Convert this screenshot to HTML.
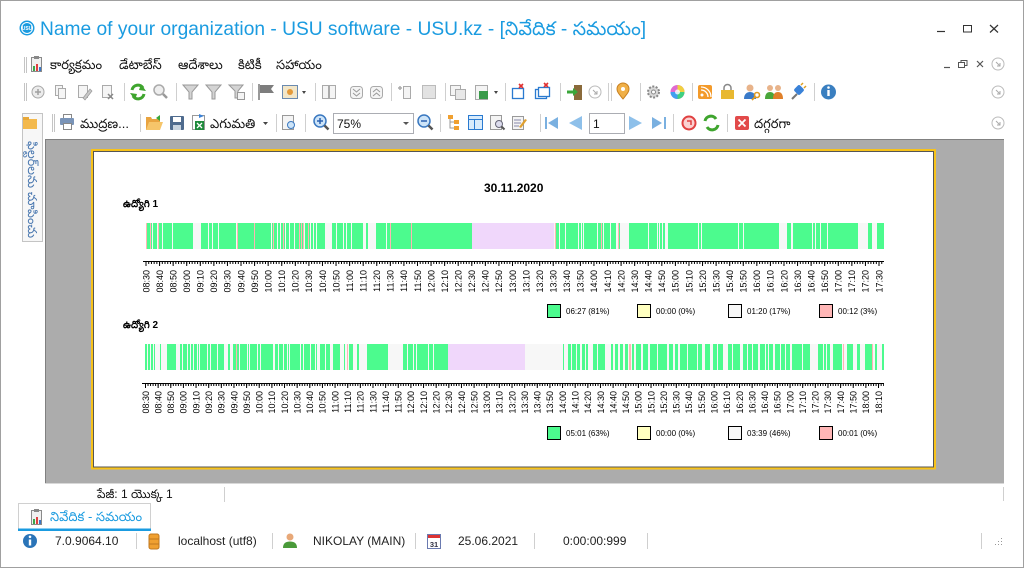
<!DOCTYPE html>
<html><head><meta charset="utf-8">
<style>
html,body{margin:0;padding:0;background:#fff;width:1024px;height:568px;overflow:hidden}
svg{display:block;font-family:"Liberation Sans",Arial,sans-serif}
</style></head><body>
<svg width="1024" height="568" viewBox="0 0 1024 568" xmlns="http://www.w3.org/2000/svg">
<rect x="0.5" y="0.5" width="1023" height="567" fill="#fff" stroke="#a0a0a0"/>

<!-- Title bar -->
<circle cx="27" cy="28" r="7.5" fill="#1a9be0"/>
<circle cx="27" cy="28" r="5.5" fill="none" stroke="#fff" stroke-width="1"/>
<text x="27" y="30" font-size="5" font-weight="bold" fill="#fff" text-anchor="middle">USU</text>
<text x="40" y="35" font-size="19.2" fill="#1a9be0">Name of your organization - USU software - USU.kz - [నివేదిక - సమయం]</text>
<path d="M937 31.5h8" stroke="#333" stroke-width="1.2"/>
<rect x="963.5" y="25.5" width="8" height="6.5" fill="none" stroke="#333"/>
<path d="M990 25l8 7.5M998 25l-8 7.5" stroke="#333" stroke-width="1.2"/>

<!-- Menu bar -->
<path d="M24.5 57v16M26.5 57v16" stroke="#c4c4c4"/>
<rect x="31.5" y="57.5" width="10" height="14" fill="#f0f0f0" stroke="#8a8a8a"/>
<rect x="34" y="56" width="5" height="3" fill="#888"/>
<rect x="33" y="66" width="2" height="5" fill="#3aa64a"/><rect x="36" y="64" width="2" height="7" fill="#e04040"/><rect x="39" y="67" width="2" height="4" fill="#3a78c8"/>
<g font-size="13" fill="#111">
<text x="50" y="69">కార్యక్రమం</text>
<text x="119" y="69">డేటాబేస్</text>
<text x="178" y="69">ఆదేశాలు</text>
<text x="238" y="69">కిటికీ</text>
<text x="276" y="69">సహాయం</text>
</g>
<path d="M944 67.5h6" stroke="#555" stroke-width="1.2"/>
<rect x="958.5" y="62.5" width="6" height="5" fill="none" stroke="#555"/>
<path d="M961 62.5v-2h6v5h-2" fill="none" stroke="#555"/>
<path d="M977 61l6 6M983 61l-6 6" stroke="#555" stroke-width="1.2"/>
<circle cx="998" cy="64" r="6" fill="none" stroke="#bbb"/>
<path d="M996 62l4 4M1000 63v3h-3" stroke="#aaa" fill="none"/>

<!-- Toolbar 1 -->
<path d="M24.5 83v18M26.5 83v18" stroke="#c4c4c4"/>
<g stroke="#cfcfcf">
<path d="M124.5 83v18M176.5 83v18M252.5 83v18M315.5 83v18M391.5 83v18M445.5 83v18M505.5 83v18M560.5 83v18M608.5 83v18M611.5 83v18M640.5 83v18M692.5 83v18M814.5 83v18"/>
</g>
<circle cx="38" cy="92" r="6" fill="#ececec" stroke="#a8a8a8"/>
<path d="M35 92h6M38 89v6" stroke="#a0a0a0" stroke-width="1.5"/>
<rect x="55.5" y="85.5" width="7" height="10" fill="#f5f5f5" stroke="#aaa"/>
<rect x="58.5" y="88.5" width="7" height="10" fill="#f5f5f5" stroke="#aaa"/>
<rect x="78.5" y="85.5" width="9" height="12" fill="#f5f5f5" stroke="#aaa"/>
<path d="M83 98l7-9 2 2-7 9z" fill="#c8c8c8" stroke="#999" stroke-width=".7"/>
<rect x="102.5" y="85.5" width="9" height="12" fill="#f5f5f5" stroke="#aaa"/>
<path d="M108 94l5 5M113 94l-5 5" stroke="#888" stroke-width="1.5"/>
<path d="M132 90a6 6 0 0 1 11-2" stroke="#3fa52e" stroke-width="3" fill="none"/>
<path d="M144 94a6 6 0 0 1-11 2" stroke="#3fa52e" stroke-width="3" fill="none"/>
<polygon points="141,84 146,91 139,90" fill="#3fa52e"/>
<polygon points="135,100 130,93 137,94" fill="#3fa52e"/>
<circle cx="159" cy="90" r="5" fill="#eee" stroke="#aaa" stroke-width="1.5"/>
<path d="M163 94l4 4" stroke="#999" stroke-width="2.5"/>
<path d="M183 85h15l-6 7v7h-3v-7z" fill="#d4d4d4" stroke="#999"/>
<path d="M206 85h15l-6 7v7h-3v-7z" fill="#d4d4d4" stroke="#999"/>
<path d="M229 85h14l-5 6v7h-3v-7z" fill="#d4d4d4" stroke="#999"/>
<rect x="237.5" y="92.5" width="7" height="7" fill="#f4f4f4" stroke="#999"/>
<path d="M259 84v16" stroke="#777" stroke-width="1.5"/>
<path d="M260 85h14l-3 4 3 4h-14z" fill="#7d7d7d"/>
<rect x="282.5" y="85.5" width="15" height="13" fill="#f2e6c8" stroke="#6a8ab0"/>
<circle cx="290" cy="92" r="3" fill="#e49a3a"/>
<polygon points="302,91 306,91 304,94" fill="#444"/>
<rect x="322.5" y="85.5" width="6" height="13" fill="#f4f4f4" stroke="#aaa"/>
<rect x="329.5" y="85.5" width="6" height="13" fill="#f4f4f4" stroke="#aaa"/>
<rect x="350.5" y="86.5" width="12" height="12" rx="3" fill="#f4f4f4" stroke="#aaa"/>
<path d="M353 89l3.5 3 3.5-3M353 93l3.5 3 3.5-3" stroke="#999" fill="none"/>
<rect x="370.5" y="86.5" width="12" height="12" rx="3" fill="#f4f4f4" stroke="#aaa"/>
<path d="M373 92l3.5-3 3.5 3M373 96l3.5-3 3.5 3" stroke="#999" fill="none"/>
<path d="M398 88h4M400 86v4" stroke="#aaa" stroke-width="1.5"/>
<rect x="403.5" y="86.5" width="7" height="12" fill="#f4f4f4" stroke="#aaa"/>
<rect x="422.5" y="85.5" width="13" height="13" fill="#e2e2e2" stroke="#bbb"/>
<rect x="450.5" y="85.5" width="10" height="10" fill="#f4f4f4" stroke="#aaa"/>
<rect x="455.5" y="89.5" width="10" height="10" fill="#e8e8e8" stroke="#aaa"/>
<rect x="475.5" y="85.5" width="12" height="14" fill="#f4f4f4" stroke="#aaa"/>
<rect x="479" y="91" width="9" height="8" fill="#3a9a4a"/>
<polygon points="494,91 498,91 496,94" fill="#444"/>
<rect x="512.5" y="88.5" width="11" height="10" fill="#fff" stroke="#2a7ad0" stroke-width="1.3"/>
<path d="M519 84l4 4M523 84l-4 4" stroke="#e03030" stroke-width="1.6"/>
<rect x="535.5" y="89.5" width="11" height="9" fill="#fff" stroke="#2a7ad0" stroke-width="1.3"/>
<rect x="538.5" y="87.5" width="11" height="9" fill="#fff" stroke="#2a7ad0" stroke-width="1.3"/>
<path d="M544 83l4 4M548 83l-4 4" stroke="#e03030" stroke-width="1.6"/>
<rect x="574" y="85" width="8" height="15" fill="#8a6a3a"/>
<path d="M567 92h7" stroke="#3aa63a" stroke-width="3"/>
<polygon points="573,88 578,92 573,96" fill="#3aa63a"/>
<circle cx="595" cy="92" r="6" fill="none" stroke="#bbb"/>
<path d="M593 90l4 4M597 91v3h-3" stroke="#aaa" fill="none"/>
<path d="M623 99c-4-5-6-7-6-10a6 6 0 0 1 12 0c0 3-2 5-6 10z" fill="#f0b048" stroke="#c88020"/>
<circle cx="623" cy="89" r="2" fill="#fff"/>
<circle cx="653.5" cy="92" r="5.5" fill="#d8d8d8" stroke="#888" stroke-width="2" stroke-dasharray="2 1.5"/>
<circle cx="653.5" cy="92" r="2" fill="#fff" stroke="#888"/>
<circle cx="677.5" cy="92" r="7" fill="#e06ad0"/>
<path d="M677.5 92L677.5 85A7 7 0 0 1 684.5 92z" fill="#f0d040"/>
<path d="M677.5 92L684.5 92A7 7 0 0 1 677.5 99z" fill="#40d080"/>
<path d="M677.5 92L677.5 99A7 7 0 0 1 670.5 92z" fill="#40a0f0"/>
<circle cx="677.5" cy="92" r="2.5" fill="#fff" opacity=".8"/>
<rect x="698" y="85" width="14" height="14" rx="2" fill="#f39a2a"/>
<circle cx="702" cy="95" r="1.5" fill="#fff"/>
<path d="M701 90a7 7 0 0 1 7 7M701 87a10 10 0 0 1 10 10" stroke="#fff" stroke-width="1.3" fill="none"/>
<path d="M724 90v-2a3.5 3.5 0 0 1 7 0v2" stroke="#888" stroke-width="1.5" fill="none"/>
<rect x="721" y="90" width="13" height="9" fill="#e8b830"/>
<circle cx="750" cy="88" r="3.5" fill="#e8b38a"/>
<path d="M744 99c0-5 3-7 6-7s6 2 6 7z" fill="#3a7ac8"/>
<circle cx="757" cy="95" r="2.5" fill="none" stroke="#e09a20" stroke-width="1.6"/>
<path d="M755 97l-3 3" stroke="#e09a20" stroke-width="1.6"/>
<circle cx="770" cy="88" r="3" fill="#e8b38a"/><circle cx="778" cy="88" r="3" fill="#e8b38a"/>
<path d="M765 99c0-5 2-7 5-7s5 2 5 7z" fill="#4aa63a"/><path d="M773 99c0-5 2-7 5-7s5 2 5 7z" fill="#e0802a"/>
<path d="M792 99l5-5" stroke="#777" stroke-width="2"/>
<rect x="795" y="86" width="8" height="8" rx="2" fill="#3a82d8" transform="rotate(45 799 90)"/>
<path d="M801 85l2-2M804 88l2-2" stroke="#e0a020" stroke-width="1.5"/>
<circle cx="828.5" cy="92" r="7.5" fill="#3a7fc0"/>
<rect x="827.3" y="90" width="2.4" height="6" fill="#fff"/><circle cx="828.5" cy="87.5" r="1.3" fill="#fff"/>
<circle cx="998" cy="92" r="6" fill="none" stroke="#bbb"/>
<path d="M996 90l4 4M1000 91v3h-3" stroke="#aaa" fill="none"/>

<!-- Left panel -->
<rect x="22.5" y="113.5" width="20" height="128" fill="#f7f7f7" stroke="#c4c4c4"/>
<rect x="23" y="119" width="14" height="10" fill="#f3b94d"/>
<rect x="23" y="117" width="6" height="3" fill="#e8a838"/>
<text transform="matrix(0,1,-1,0,28,141)" font-size="12.5" fill="#4a78b0">ఫిల్టర్‌లను చూపించు</text>

<!-- Toolbar 2 -->
<path d="M52.5 114v18M54.5 114v18" stroke="#c4c4c4"/>
<g stroke="#cfcfcf"><path d="M140.5 114v18M276.5 114v18M305.5 114v18M440.5 114v18M540.5 114v18M673.5 114v18M727.5 114v18"/></g>
<rect x="63.5" y="114.5" width="8" height="4" fill="#fff" stroke="#888"/>
<rect x="60" y="118" width="14" height="7" rx="1" fill="#7a94b8"/>
<rect x="63.5" y="123.5" width="8" height="6" fill="#fff" stroke="#888"/>
<g font-size="13" fill="#111">
<text x="80" y="128">ముద్రణ...</text>
<text x="210" y="128">ఎగుమతి</text>
<text x="754" y="128">దగ్గరగా</text>
</g>
<path d="M146 117h5l1 2h8v11h-14z" fill="#e9a440"/>
<path d="M146 130l3-8h14l-3 8z" fill="#f6c56a"/>
<path d="M156 118l4-3v6z" fill="#3aa63a"/>
<rect x="170" y="116" width="14" height="14" rx="1" fill="#4f6b8e"/>
<rect x="173" y="117" width="8" height="5" fill="#fff"/>
<rect x="173" y="125" width="8" height="5" fill="#c8d4e0"/>
<rect x="192.5" y="115.5" width="12" height="14" fill="#fff" stroke="#999"/>
<rect x="195" y="121" width="9" height="9" fill="#1f8a3c"/>
<path d="M197 123l5 5M202 123l-5 5" stroke="#fff" stroke-width="1.3"/>
<path d="M199 114l5 2-5 2" fill="#3a82d8"/>
<polygon points="263,122 268,122 265.5,125" fill="#444"/>
<rect x="282.5" y="115.5" width="11" height="14" fill="#f4f4f4" stroke="#999"/>
<circle cx="291" cy="125" r="3.5" fill="#cde4f8" stroke="#3a78c0"/>
<circle cx="320" cy="121" r="6" fill="#cde4f8" stroke="#3a78c0" stroke-width="1.5"/>
<path d="M317 121h6M320 118v6" stroke="#2a60b0" stroke-width="1.5"/>
<path d="M324.5 125.5l4 4" stroke="#555" stroke-width="2.5"/>
<rect x="333.5" y="113.5" width="80" height="20" fill="#fff" stroke="#abadb3"/>
<text x="337" y="128" font-size="12" fill="#111">75%</text>
<polygon points="403,122 409,122 406,125" fill="#555"/>
<circle cx="424" cy="121" r="6" fill="#cde4f8" stroke="#3a78c0" stroke-width="1.5"/>
<path d="M421 121h6" stroke="#2a60b0" stroke-width="1.5"/>
<path d="M428.5 125.5l4 4" stroke="#555" stroke-width="2.5"/>
<rect x="448" y="115" width="5" height="4" fill="#f0a030"/><rect x="454" y="120" width="5" height="4" fill="#f0a030"/><rect x="454" y="126" width="5" height="4" fill="#f0a030"/>
<path d="M450 119v9h4M450 122h4" stroke="#999" fill="none"/>
<rect x="468.5" y="115.5" width="14" height="14" fill="#d8ebfb" stroke="#2a7ad0"/>
<path d="M468.5 119.5h14M474.5 119.5v10" stroke="#2a7ad0"/>
<rect x="490.5" y="115.5" width="11" height="14" fill="#f4f4f4" stroke="#999"/>
<circle cx="499" cy="124" r="3.5" fill="#dde" stroke="#667"/>
<path d="M501.5 126.5l3 3" stroke="#555" stroke-width="2"/>
<rect x="512.5" y="116.5" width="11" height="13" fill="#f4f4f4" stroke="#999"/>
<path d="M514 120h7M514 123h7M514 126h5" stroke="#88a"/>
<path d="M519 127l6-8 2 1-6 8z" fill="#e0a030"/>
<rect x="545" y="117" width="2" height="12" fill="#7ab0e0"/>
<polygon points="558,117 548,123 558,129" fill="#7ab0e0"/>
<polygon points="582,116 569,123 582,130" fill="#8ec0ea"/>
<rect x="589.5" y="113.5" width="35" height="20" fill="#fff" stroke="#abadb3"/>
<text x="593" y="128" font-size="12" fill="#111">1</text>
<polygon points="629,116 642,123 629,130" fill="#8ec0ea"/>
<polygon points="652,117 662,123 652,129" fill="#7ab0e0"/>
<rect x="664" y="117" width="2" height="12" fill="#7ab0e0"/>
<circle cx="689" cy="123" r="6.5" fill="#fbd0d0" stroke="#e04040" stroke-width="2"/>
<path d="M687 121h4v4" stroke="#e04040" stroke-width="1.5" fill="none"/>
<path d="M705 121a6 6 0 0 1 11-2" stroke="#3fa52e" stroke-width="3" fill="none"/>
<path d="M718 125a6 6 0 0 1-11 2" stroke="#3fa52e" stroke-width="3" fill="none"/>
<rect x="735" y="116" width="14" height="14" rx="2" fill="#e24a4a"/>
<path d="M738.5 119.5l7 7M745.5 119.5l-7 7" stroke="#fff" stroke-width="1.8"/>
<circle cx="998" cy="123" r="6" fill="none" stroke="#bbb"/>
<path d="M996 121l4 4M1000 122v3h-3" stroke="#aaa" fill="none"/>

<!-- Preview gray area -->
<rect x="45" y="139" width="959" height="344" fill="#acacac"/>
<path d="M45 139.5h959M45.5 139v344" stroke="#808080"/>
<path d="M45 483.5h959" stroke="#d8d8d8"/>

<!-- Page -->
<rect x="92" y="150" width="843" height="318.5" fill="#fff" stroke="#f7c21a" stroke-width="2"/>
<rect x="93.5" y="151.5" width="840" height="315.5" fill="none" stroke="#555"/>

<text x="484" y="192" font-size="12" font-weight="bold" fill="#000">30.11.2020</text>
<text x="123" y="207" font-size="10" font-weight="bold" fill="#000">ఉద్యోగి 1</text>
<text x="123" y="328" font-size="10" font-weight="bold" fill="#000">ఉద్యోగి 2</text>

<!-- Chart 1 bar -->
<rect x="146" y="223" width="738" height="26" fill="#f7f7f7"/>
<g fill="#4cfb8e">
<rect x="146" y="223" width="47" height="26"/>
<rect x="201" y="223" width="124" height="26"/>
<rect x="332" y="223" width="31" height="26"/>
<rect x="366" y="223" width="2" height="26"/>
<rect x="376" y="223" width="96" height="26"/>
<rect x="556" y="223" width="64" height="26"/>
<rect x="629" y="223" width="36" height="26"/>
<rect x="668" y="223" width="70" height="26"/>
<rect x="739" y="223" width="40" height="26"/>
<rect x="787" y="223" width="4" height="26"/>
<rect x="793" y="223" width="65" height="26"/>
<rect x="868" y="223" width="4" height="26"/>
<rect x="877" y="223" width="7" height="26"/>
</g>
<rect x="472" y="223" width="82" height="26" fill="#f0d7fb"/>
<g fill="#f7f7f7">
<rect x="152" y="223" width="1" height="26"/><rect x="157" y="223" width="1" height="26"/><rect x="162" y="223" width="1" height="26"/><rect x="172" y="223" width="1" height="26"/>
<rect x="208" y="223" width="1" height="26"/><rect x="212" y="223" width="1" height="26"/><rect x="218" y="223" width="1" height="26"/><rect x="236" y="223" width="1" height="26"/>
<rect x="271" y="223" width="1" height="26"/><rect x="277" y="223" width="1" height="26"/><rect x="280" y="223" width="1" height="26"/><rect x="285" y="223" width="1" height="26"/>
<rect x="289" y="223" width="1" height="26"/><rect x="294" y="223" width="1" height="26"/><rect x="304" y="223" width="1" height="26"/><rect x="310" y="223" width="1" height="26"/>
<rect x="313" y="223" width="1" height="26"/><rect x="316" y="223" width="1" height="26"/>
<rect x="336" y="223" width="1" height="26"/><rect x="343" y="223" width="1" height="26"/><rect x="346" y="223" width="1" height="26"/><rect x="351" y="223" width="1" height="26"/>
<rect x="386" y="223" width="1" height="26"/>
<rect x="559" y="223" width="1" height="26"/><rect x="565" y="223" width="1" height="26"/><rect x="578" y="223" width="1" height="26"/><rect x="581" y="223" width="1" height="26"/>
<rect x="583" y="223" width="1" height="26"/><rect x="597" y="223" width="1" height="26"/><rect x="603" y="223" width="1" height="26"/><rect x="610" y="223" width="1" height="26"/>
<rect x="616" y="223" width="2" height="26"/>
<rect x="648" y="223" width="1" height="26"/><rect x="657" y="223" width="1" height="26"/><rect x="659" y="223" width="1" height="26"/><rect x="662" y="223" width="1" height="26"/>
<rect x="698" y="223" width="1" height="26"/><rect x="701" y="223" width="1" height="26"/><rect x="743" y="223" width="1" height="26"/>
<rect x="812" y="223" width="1" height="26"/><rect x="815" y="223" width="1" height="26"/><rect x="820" y="223" width="1" height="26"/><rect x="827" y="223" width="1" height="26"/>
</g>
<g fill="#ffb3b3">
<rect x="146" y="223" width="1" height="26"/><rect x="150" y="223" width="1" height="26"/><rect x="158" y="223" width="1" height="26"/>
<rect x="237" y="223" width="1" height="26"/><rect x="254" y="223" width="1" height="26"/><rect x="273" y="223" width="1" height="26"/><rect x="283" y="223" width="1" height="26"/>
<rect x="299" y="223" width="1" height="26"/><rect x="301" y="223" width="1" height="26"/><rect x="303" y="223" width="1" height="26"/><rect x="308" y="223" width="1" height="26"/>
<rect x="390" y="223" width="1" height="26"/><rect x="411" y="223" width="1" height="26"/>
<rect x="555" y="223" width="1" height="26"/><rect x="601" y="223" width="1" height="26"/><rect x="618" y="223" width="1" height="26"/>
</g>

<!-- Chart 1 axis -->
<path d="M143 261.5H884" stroke="#000"/>
<path d="M145.5 263H884" stroke="#000" stroke-width="2" stroke-dasharray="1 1.715"/>
<path d="M145.5 264H884" stroke="#000" stroke-width="4" stroke-dasharray="1 12.574"/>
<g font-size="9" fill="#000" text-anchor="end">
<text transform="matrix(0,-1,1,0,149.3,270)">08:30</text>
<text transform="matrix(0,-1,1,0,162.9,270)">08:40</text>
<text transform="matrix(0,-1,1,0,176.4,270)">08:50</text>
<text transform="matrix(0,-1,1,0,190.0,270)">09:00</text>
<text transform="matrix(0,-1,1,0,203.6,270)">09:10</text>
<text transform="matrix(0,-1,1,0,217.2,270)">09:20</text>
<text transform="matrix(0,-1,1,0,230.7,270)">09:30</text>
<text transform="matrix(0,-1,1,0,244.3,270)">09:40</text>
<text transform="matrix(0,-1,1,0,257.9,270)">09:50</text>
<text transform="matrix(0,-1,1,0,271.5,270)">10:00</text>
<text transform="matrix(0,-1,1,0,285.0,270)">10:10</text>
<text transform="matrix(0,-1,1,0,298.6,270)">10:20</text>
<text transform="matrix(0,-1,1,0,312.2,270)">10:30</text>
<text transform="matrix(0,-1,1,0,325.8,270)">10:40</text>
<text transform="matrix(0,-1,1,0,339.3,270)">10:50</text>
<text transform="matrix(0,-1,1,0,352.9,270)">11:00</text>
<text transform="matrix(0,-1,1,0,366.5,270)">11:10</text>
<text transform="matrix(0,-1,1,0,380.1,270)">11:20</text>
<text transform="matrix(0,-1,1,0,393.6,270)">11:30</text>
<text transform="matrix(0,-1,1,0,407.2,270)">11:40</text>
<text transform="matrix(0,-1,1,0,420.8,270)">11:50</text>
<text transform="matrix(0,-1,1,0,434.4,270)">12:00</text>
<text transform="matrix(0,-1,1,0,447.9,270)">12:10</text>
<text transform="matrix(0,-1,1,0,461.5,270)">12:20</text>
<text transform="matrix(0,-1,1,0,475.1,270)">12:30</text>
<text transform="matrix(0,-1,1,0,488.7,270)">12:40</text>
<text transform="matrix(0,-1,1,0,502.2,270)">12:50</text>
<text transform="matrix(0,-1,1,0,515.8,270)">13:00</text>
<text transform="matrix(0,-1,1,0,529.4,270)">13:10</text>
<text transform="matrix(0,-1,1,0,542.9,270)">13:20</text>
<text transform="matrix(0,-1,1,0,556.5,270)">13:30</text>
<text transform="matrix(0,-1,1,0,570.1,270)">13:40</text>
<text transform="matrix(0,-1,1,0,583.7,270)">13:50</text>
<text transform="matrix(0,-1,1,0,597.2,270)">14:00</text>
<text transform="matrix(0,-1,1,0,610.8,270)">14:10</text>
<text transform="matrix(0,-1,1,0,624.4,270)">14:20</text>
<text transform="matrix(0,-1,1,0,638.0,270)">14:30</text>
<text transform="matrix(0,-1,1,0,651.5,270)">14:40</text>
<text transform="matrix(0,-1,1,0,665.1,270)">14:50</text>
<text transform="matrix(0,-1,1,0,678.7,270)">15:00</text>
<text transform="matrix(0,-1,1,0,692.3,270)">15:10</text>
<text transform="matrix(0,-1,1,0,705.8,270)">15:20</text>
<text transform="matrix(0,-1,1,0,719.4,270)">15:30</text>
<text transform="matrix(0,-1,1,0,733.0,270)">15:40</text>
<text transform="matrix(0,-1,1,0,746.6,270)">15:50</text>
<text transform="matrix(0,-1,1,0,760.1,270)">16:00</text>
<text transform="matrix(0,-1,1,0,773.7,270)">16:10</text>
<text transform="matrix(0,-1,1,0,787.3,270)">16:20</text>
<text transform="matrix(0,-1,1,0,800.9,270)">16:30</text>
<text transform="matrix(0,-1,1,0,814.4,270)">16:40</text>
<text transform="matrix(0,-1,1,0,828.0,270)">16:50</text>
<text transform="matrix(0,-1,1,0,841.6,270)">17:00</text>
<text transform="matrix(0,-1,1,0,855.1,270)">17:10</text>
<text transform="matrix(0,-1,1,0,868.7,270)">17:20</text>
<text transform="matrix(0,-1,1,0,882.3,270)">17:30</text>
</g>

<!-- Legend 1 -->
<g stroke="#000">
<rect x="547.5" y="304.5" width="13" height="13" fill="#4cfb8e"/>
<rect x="637.5" y="304.5" width="13" height="13" fill="#ffffc0"/>
<rect x="728.5" y="304.5" width="13" height="13" fill="#f7f7f7"/>
<rect x="819.5" y="304.5" width="13" height="13" fill="#ffb6b6"/>
</g>
<g font-size="8" fill="#000">
<text x="566" y="314">06:27 (81%)</text>
<text x="656" y="314">00:00 (0%)</text>
<text x="747" y="314">01:20 (17%)</text>
<text x="838" y="314">00:12 (3%)</text>
</g>

<!-- Chart 2 bar -->
<rect x="145" y="344" width="739" height="26" fill="#f7f7f7"/>
<g fill="#4cfb8e">
<rect x="145" y="344" width="2" height="26"/><rect x="148" y="344" width="2" height="26"/><rect x="151" y="344" width="2" height="26"/><rect x="154" y="344" width="1" height="26"/>
<rect x="160" y="344" width="1" height="26"/><rect x="167" y="344" width="9" height="26"/><rect x="180" y="344" width="44" height="26"/>
<rect x="228" y="344" width="2" height="26"/><rect x="233" y="344" width="40" height="26"/><rect x="275" y="344" width="42" height="26"/>
<rect x="320" y="344" width="10" height="26"/><rect x="333" y="344" width="7" height="26"/><rect x="344" y="344" width="1" height="26"/>
<rect x="349" y="344" width="4" height="26"/><rect x="357" y="344" width="2" height="26"/><rect x="367" y="344" width="22" height="26"/>
<rect x="403" y="344" width="45" height="26"/>
<rect x="563" y="344" width="1" height="26"/><rect x="568" y="344" width="12" height="26"/><rect x="582" y="344" width="6" height="26"/>
<rect x="593" y="344" width="4" height="26"/><rect x="598" y="344" width="7" height="26"/><rect x="611" y="344" width="2" height="26"/>
<rect x="615" y="344" width="3" height="26"/><rect x="620" y="344" width="3" height="26"/><rect x="625" y="344" width="3" height="26"/>
<rect x="632" y="344" width="2" height="26"/><rect x="636" y="344" width="5" height="26"/><rect x="643" y="344" width="5" height="26"/>
<rect x="650" y="344" width="7" height="26"/><rect x="658" y="344" width="9" height="26"/><rect x="669" y="344" width="4" height="26"/>
<rect x="675" y="344" width="3" height="26"/><rect x="680" y="344" width="7" height="26"/><rect x="688" y="344" width="9" height="26"/>
<rect x="698" y="344" width="4" height="26"/><rect x="705" y="344" width="5" height="26"/><rect x="713" y="344" width="10" height="26"/>
<rect x="728" y="344" width="12" height="26"/><rect x="743" y="344" width="4" height="26"/><rect x="748" y="344" width="10" height="26"/>
<rect x="760" y="344" width="13" height="26"/><rect x="775" y="344" width="15" height="26"/><rect x="792" y="344" width="10" height="26"/>
<rect x="803" y="344" width="7" height="26"/><rect x="818" y="344" width="12" height="26"/><rect x="833" y="344" width="9" height="26"/>
<rect x="847" y="344" width="6" height="26"/><rect x="857" y="344" width="3" height="26"/><rect x="865" y="344" width="7" height="26"/>
<rect x="875" y="344" width="2" height="26"/><rect x="882" y="344" width="2" height="26"/>
</g>
<rect x="448" y="344" width="77" height="26" fill="#f0d7fb"/>
<g fill="#f7f7f7">
<rect x="182" y="344" width="1" height="26"/><rect x="187" y="344" width="1" height="26"/><rect x="190" y="344" width="1" height="26"/><rect x="193" y="344" width="1" height="26"/>
<rect x="197" y="344" width="1" height="26"/><rect x="199" y="344" width="1" height="26"/><rect x="207" y="344" width="1" height="26"/><rect x="210" y="344" width="1" height="26"/>
<rect x="217" y="344" width="1" height="26"/><rect x="239" y="344" width="1" height="26"/><rect x="247" y="344" width="1" height="26"/><rect x="249" y="344" width="1" height="26"/>
<rect x="257" y="344" width="1" height="26"/><rect x="260" y="344" width="1" height="26"/><rect x="278" y="344" width="1" height="26"/><rect x="283" y="344" width="1" height="26"/>
<rect x="287" y="344" width="1" height="26"/><rect x="289" y="344" width="1" height="26"/><rect x="300" y="344" width="1" height="26"/><rect x="303" y="344" width="1" height="26"/>
<rect x="310" y="344" width="1" height="26"/><rect x="315" y="344" width="1" height="26"/><rect x="325" y="344" width="1" height="26"/><rect x="388" y="344" width="1" height="26"/>
<rect x="407" y="344" width="1" height="26"/><rect x="413" y="344" width="1" height="26"/><rect x="416" y="344" width="1" height="26"/><rect x="428" y="344" width="1" height="26"/>
<rect x="433" y="344" width="1" height="26"/><rect x="571" y="344" width="1" height="26"/><rect x="576" y="344" width="1" height="26"/><rect x="585" y="344" width="1" height="26"/>
<rect x="717" y="344" width="1" height="26"/><rect x="732" y="344" width="1" height="26"/><rect x="752" y="344" width="1" height="26"/><rect x="765" y="344" width="1" height="26"/>
<rect x="768" y="344" width="1" height="26"/><rect x="780" y="344" width="1" height="26"/><rect x="785" y="344" width="1" height="26"/><rect x="823" y="344" width="1" height="26"/>
<rect x="826" y="344" width="1" height="26"/>
</g>
<g fill="#ffb3b3">
<rect x="236" y="344" width="1" height="26"/><rect x="347" y="344" width="1" height="26"/><rect x="629" y="344" width="2" height="26"/>
<rect x="843" y="344" width="1" height="26"/><rect x="872" y="344" width="1" height="26"/>
</g>

<!-- Chart 2 axis -->
<path d="M142 383.5H884" stroke="#000"/>
<path d="M145 385H884" stroke="#000" stroke-width="2" stroke-dasharray="1 1.528"/>
<path d="M145 386H884" stroke="#000" stroke-width="4" stroke-dasharray="1 11.638"/>
<g font-size="9" fill="#000" text-anchor="end">
<text transform="matrix(0,-1,1,0,148.8,391)">08:30</text>
<text transform="matrix(0,-1,1,0,161.4,391)">08:40</text>
<text transform="matrix(0,-1,1,0,174.1,391)">08:50</text>
<text transform="matrix(0,-1,1,0,186.7,391)">09:00</text>
<text transform="matrix(0,-1,1,0,199.4,391)">09:10</text>
<text transform="matrix(0,-1,1,0,212.0,391)">09:20</text>
<text transform="matrix(0,-1,1,0,224.6,391)">09:30</text>
<text transform="matrix(0,-1,1,0,237.3,391)">09:40</text>
<text transform="matrix(0,-1,1,0,249.9,391)">09:50</text>
<text transform="matrix(0,-1,1,0,262.5,391)">10:00</text>
<text transform="matrix(0,-1,1,0,275.2,391)">10:10</text>
<text transform="matrix(0,-1,1,0,287.8,391)">10:20</text>
<text transform="matrix(0,-1,1,0,300.5,391)">10:30</text>
<text transform="matrix(0,-1,1,0,313.1,391)">10:40</text>
<text transform="matrix(0,-1,1,0,325.7,391)">10:50</text>
<text transform="matrix(0,-1,1,0,338.4,391)">11:00</text>
<text transform="matrix(0,-1,1,0,351.0,391)">11:10</text>
<text transform="matrix(0,-1,1,0,363.6,391)">11:20</text>
<text transform="matrix(0,-1,1,0,376.3,391)">11:30</text>
<text transform="matrix(0,-1,1,0,388.9,391)">11:40</text>
<text transform="matrix(0,-1,1,0,401.6,391)">11:50</text>
<text transform="matrix(0,-1,1,0,414.2,391)">12:00</text>
<text transform="matrix(0,-1,1,0,426.8,391)">12:10</text>
<text transform="matrix(0,-1,1,0,439.5,391)">12:20</text>
<text transform="matrix(0,-1,1,0,452.1,391)">12:30</text>
<text transform="matrix(0,-1,1,0,464.8,391)">12:40</text>
<text transform="matrix(0,-1,1,0,477.4,391)">12:50</text>
<text transform="matrix(0,-1,1,0,490.0,391)">13:00</text>
<text transform="matrix(0,-1,1,0,502.7,391)">13:10</text>
<text transform="matrix(0,-1,1,0,515.3,391)">13:20</text>
<text transform="matrix(0,-1,1,0,527.9,391)">13:30</text>
<text transform="matrix(0,-1,1,0,540.6,391)">13:40</text>
<text transform="matrix(0,-1,1,0,553.2,391)">13:50</text>
<text transform="matrix(0,-1,1,0,565.9,391)">14:00</text>
<text transform="matrix(0,-1,1,0,578.5,391)">14:10</text>
<text transform="matrix(0,-1,1,0,591.1,391)">14:20</text>
<text transform="matrix(0,-1,1,0,603.8,391)">14:30</text>
<text transform="matrix(0,-1,1,0,616.4,391)">14:40</text>
<text transform="matrix(0,-1,1,0,629.0,391)">14:50</text>
<text transform="matrix(0,-1,1,0,641.7,391)">15:00</text>
<text transform="matrix(0,-1,1,0,654.3,391)">15:10</text>
<text transform="matrix(0,-1,1,0,667.0,391)">15:20</text>
<text transform="matrix(0,-1,1,0,679.6,391)">15:30</text>
<text transform="matrix(0,-1,1,0,692.2,391)">15:40</text>
<text transform="matrix(0,-1,1,0,704.9,391)">15:50</text>
<text transform="matrix(0,-1,1,0,717.5,391)">16:00</text>
<text transform="matrix(0,-1,1,0,730.1,391)">16:10</text>
<text transform="matrix(0,-1,1,0,742.8,391)">16:20</text>
<text transform="matrix(0,-1,1,0,755.4,391)">16:30</text>
<text transform="matrix(0,-1,1,0,768.1,391)">16:40</text>
<text transform="matrix(0,-1,1,0,780.7,391)">16:50</text>
<text transform="matrix(0,-1,1,0,793.3,391)">17:00</text>
<text transform="matrix(0,-1,1,0,806.0,391)">17:10</text>
<text transform="matrix(0,-1,1,0,818.6,391)">17:20</text>
<text transform="matrix(0,-1,1,0,831.2,391)">17:30</text>
<text transform="matrix(0,-1,1,0,843.9,391)">17:40</text>
<text transform="matrix(0,-1,1,0,856.5,391)">17:50</text>
<text transform="matrix(0,-1,1,0,869.2,391)">18:00</text>
<text transform="matrix(0,-1,1,0,881.8,391)">18:10</text>
</g>

<!-- Legend 2 -->
<g stroke="#000">
<rect x="547.5" y="426.5" width="13" height="13" fill="#4cfb8e"/>
<rect x="637.5" y="426.5" width="13" height="13" fill="#ffffc0"/>
<rect x="728.5" y="426.5" width="13" height="13" fill="#f7f7f7"/>
<rect x="819.5" y="426.5" width="13" height="13" fill="#ffb6b6"/>
</g>
<g font-size="8" fill="#000">
<text x="566" y="436">05:01 (63%)</text>
<text x="656" y="436">00:00 (0%)</text>
<text x="747" y="436">03:39 (46%)</text>
<text x="838" y="436">00:01 (0%)</text>
</g>

<!-- Page status row -->
<text x="97" y="498" font-size="12" fill="#111">పేజీ: 1 యొక్క 1</text>
<path d="M224.5 487v15M1003.5 487v14" stroke="#cfcfcf"/>

<!-- Tab -->
<path d="M18.5 531V503.5H150.5V531" fill="none" stroke="#d0d0d0"/>
<rect x="18" y="528.5" width="133" height="2.5" fill="#1a9be0"/>
<rect x="31.5" y="510.5" width="10" height="14" fill="#f0f0f0" stroke="#8a8a8a"/>
<rect x="34" y="509" width="5" height="3" fill="#888"/>
<rect x="33" y="519" width="2" height="5" fill="#3aa64a"/><rect x="36" y="517" width="2" height="7" fill="#e04040"/><rect x="39" y="520" width="2" height="4" fill="#3a78c8"/>
<text x="50" y="521" font-size="13" fill="#1a9be0">నివేదిక - సమయం</text>

<!-- Status bar -->
<circle cx="30" cy="541" r="7" fill="#2a74b8"/>
<rect x="28.8" y="539.5" width="2.4" height="6" fill="#fff"/><circle cx="30" cy="536.8" r="1.3" fill="#fff"/>
<g font-size="12" fill="#222">
<text x="55" y="545">7.0.9064.10</text>
<text x="178" y="545">localhost (utf8)</text>
<text x="313" y="545">NIKOLAY (MAIN)</text>
<text x="458" y="545">25.06.2021</text>
<text x="563" y="545">0:00:00:999</text>
</g>
<g stroke="#cfcfcf"><path d="M136.5 533v16M272.5 533v16M415.5 533v16M534.5 533v16M647.5 533v16M981.5 533v16"/></g>
<rect x="149" y="534" width="10" height="15" rx="2" fill="#f0a030" stroke="#c07820"/>
<path d="M149 539h10M149 544h10" stroke="#c07820"/>
<circle cx="290" cy="537" r="3.5" fill="#e8a878"/>
<path d="M283 548c0-5 3-6.5 7-6.5s7 1.5 7 6.5z" fill="#4a9a3a"/>
<rect x="427.5" y="534.5" width="13" height="14" fill="#fff" stroke="#6a7ab0"/>
<rect x="428" y="535" width="12" height="3" fill="#d33"/>
<text x="434" y="547" font-size="7.5" font-weight="bold" fill="#334" text-anchor="middle">31</text>
<g fill="#999">
<rect x="1001" y="538" width="1" height="1"/><rect x="998" y="541" width="1" height="1"/><rect x="1001" y="541" width="1" height="1"/>
<rect x="995" y="544" width="1" height="1"/><rect x="998" y="544" width="1" height="1"/><rect x="1001" y="544" width="1" height="1"/>
</g>
</svg>
</body></html>
